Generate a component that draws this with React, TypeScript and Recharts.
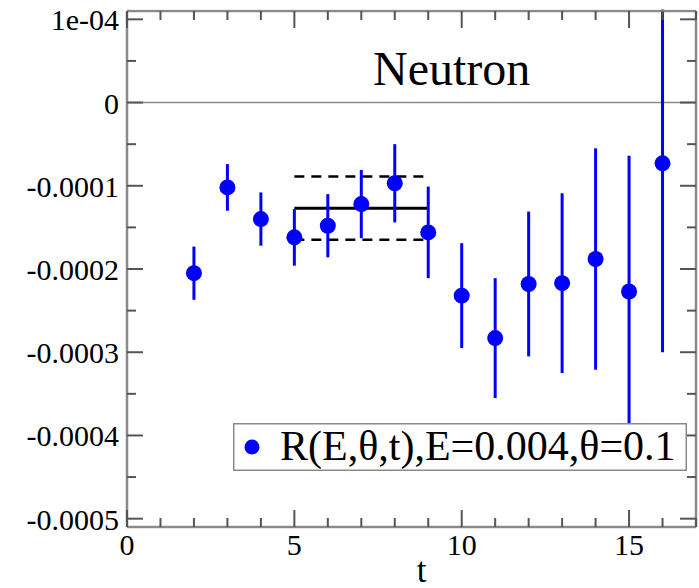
import React from "react";
import {
  ScatterChart,
  Scatter,
  XAxis,
  YAxis,
  ErrorBar,
  ReferenceLine,
  Legend,
} from "recharts";

// R(E,theta,t) per time slice
const tValues = [2, 3, 4, 5, 6, 7, 8, 9, 10, 11, 12, 13, 14, 15, 16];
const rValues = [
  -0.000205, -0.000102, -0.00014, -0.000162, -0.000148, -0.000122, -0.000097,
  -0.000156, -0.000232, -0.000283, -0.000218, -0.000217, -0.000188, -0.000227,
  -0.000073,
];
const rErrors = [
  0.000032, 0.000028, 0.000032, 0.000034, 0.000038, 0.000041, 0.000047,
  0.000055, 0.000063, 0.000072, 0.000087, 0.000108, 0.000133, 0.000163,
  0.000227,
];

// plateau fit over t = 5..9
const fitRange = [5, 9];
const fitValue = -0.000127;
const fitError = 0.000038;

const xTicks = [0, 1, 2, 3, 4, 5, 6, 7, 8, 9, 10, 11, 12, 13, 14, 15, 16, 17];
const xMajorTicks = [0, 5, 10, 15];
const xTickLabels = ["0", "5", "10", "15"];

const yMajorTicks = [-0.0005, -0.0004, -0.0003, -0.0002, -0.0001, 0, 0.0001];
const yMinorTicks = [-0.00045, -0.00035, -0.00025, -0.00015, -0.00005, 0.00005];
const yTickLabels = ["-0.0005", "-0.0004", "-0.0003", "-0.0002", "-0.0001", "0", "1e-04"];

const data = tValues.map((t, i) => ({ t, r: rValues[i], err: rErrors[i] }));

const FONT = "'Liberation Serif', 'DejaVu Serif', serif";
const FRAME = "#8a8a8a";
const TICK = "#555";
const BLUE = "#0000ff";

const majorIndex = (list: number[], v: number) =>
  list.findIndex((m) => Math.abs(m - v) < 1e-9);

const BottomTick = ({ x, y, payload }: any) => {
  const i = majorIndex(xMajorTicks, payload.value);
  const len = i >= 0 ? 17 : 9;
  return (
    <g>
      <line x1={x} y1={y} x2={x} y2={y - len} stroke={TICK} strokeWidth={2} />
      {i >= 0 && (
        <text x={x} y={y + 28} textAnchor="middle" fontSize={30} fontFamily={FONT} fill="#000">
          {xTickLabels[i]}
        </text>
      )}
    </g>
  );
};

const TopTick = ({ x, y, payload }: any) => {
  const len = majorIndex(xMajorTicks, payload.value) >= 0 ? 17 : 9;
  return <line x1={x} y1={y} x2={x} y2={y + len} stroke={TICK} strokeWidth={2} />;
};

const LeftTick = ({ x, y, payload }: any) => {
  const i = majorIndex(yMajorTicks, payload.value);
  const len = i >= 0 ? 16 : 9;
  return (
    <g>
      <line x1={x} y1={y} x2={x + len} y2={y} stroke={TICK} strokeWidth={2} />
      {i >= 0 && (
        <text x={x - 8} y={y + 11} textAnchor="end" fontSize={30} fontFamily={FONT} fill="#000">
          {yTickLabels[i]}
        </text>
      )}
    </g>
  );
};

const RightTick = ({ x, y, payload }: any) => {
  const len = majorIndex(yMajorTicks, payload.value) >= 0 ? 16 : 9;
  return <line x1={x} y1={y} x2={x - len} y2={y} stroke={TICK} strokeWidth={2} />;
};

const Dot = (p: any) => <circle cx={p.cx} cy={p.cy} r={8} fill={BLUE} />;

const LegendBox = () => (
  <svg width={454} height={48} style={{ display: "block" }}>
    <rect x={0.75} y={0.75} width={452.5} height={46.5} fill="#fff" stroke={FRAME} strokeWidth={1.5} />
    <circle cx={19} cy={24} r={7.5} fill={BLUE} />
    <text x={47} y={37} fontSize={42} fontFamily={FONT} fill="#000">
      R(E,θ,t),E=0.004,θ=0.1
    </text>
  </svg>
);

export default function App() {
  const yTicks = [...yMajorTicks, ...yMinorTicks].sort((a, b) => a - b);
  return (
    <div style={{ position: "absolute", left: 0, top: 0, width: 699, height: 588, background: "#fff" }}>
      <ScatterChart width={699} height={588} margin={{ top: 10, right: 2, bottom: 0, left: 0 }}>
        <XAxis
          xAxisId={0}
          dataKey="t"
          type="number"
          domain={[0, 17]}
          ticks={xTicks}
          interval={0}
          allowDataOverflow
          height={61}
          tickSize={0}
          tickMargin={0}
          tickLine={false}
          axisLine={{ stroke: FRAME, strokeWidth: 2.5 }}
          tick={<BottomTick />}
          label={{
            value: "t",
            content: ({ viewBox }: any) => (
              <text
                x={viewBox.x + viewBox.width / 2 + 10}
                y={viewBox.y + 55}
                textAnchor="middle"
                fontSize={35}
                fontFamily={FONT}
                fill="#000"
              >
                t
              </text>
            ),
          }}
        />
        <XAxis
          xAxisId="top"
          orientation="top"
          dataKey="t"
          type="number"
          domain={[0, 17]}
          ticks={xTicks}
          interval={0}
          allowDataOverflow
          height={1}
          tickSize={0}
          tickMargin={0}
          tickLine={false}
          axisLine={{ stroke: FRAME, strokeWidth: 2.5 }}
          tick={<TopTick />}
        />
        <YAxis
          yAxisId={0}
          dataKey="r"
          type="number"
          domain={[-0.00051, 0.00011]}
          ticks={yTicks}
          interval={0}
          allowDataOverflow
          width={127}
          tickSize={0}
          tickMargin={0}
          tickLine={false}
          axisLine={{ stroke: FRAME, strokeWidth: 2.5 }}
          tick={<LeftTick />}
        />
        <YAxis
          yAxisId="right"
          orientation="right"
          dataKey="r"
          type="number"
          domain={[-0.00051, 0.00011]}
          ticks={yTicks}
          interval={0}
          allowDataOverflow
          width={1}
          tickSize={0}
          tickMargin={0}
          tickLine={false}
          axisLine={{ stroke: FRAME, strokeWidth: 2.5 }}
          tick={<RightTick />}
        />
        <ReferenceLine y={0} stroke={FRAME} strokeWidth={1.5} />
        <ReferenceLine
          segment={[{ x: fitRange[0], y: fitValue + fitError }, { x: fitRange[1], y: fitValue + fitError }]}
          stroke="#000"
          strokeWidth={2.5}
          strokeDasharray="10 7"
        />
        <ReferenceLine
          segment={[{ x: fitRange[0], y: fitValue }, { x: fitRange[1], y: fitValue }]}
          stroke="#000"
          strokeWidth={3}
        />
        <ReferenceLine
          segment={[{ x: fitRange[0], y: fitValue - fitError }, { x: fitRange[1], y: fitValue - fitError }]}
          stroke="#000"
          strokeWidth={2.5}
          strokeDasharray="10 7"
        />
        <Scatter name="R" data={data} fill={BLUE} shape={<Dot />} isAnimationActive={false}>
          <ErrorBar dataKey="err" direction="y" width={0} stroke={BLUE} strokeWidth={3} isAnimationActive={false} />
        </Scatter>
        <Legend
          layout="horizontal"
          verticalAlign="middle"
          align="center"
          content={() => <LegendBox />}
          wrapperStyle={{ left: 233, top: 423, width: 454, height: 48 }}
        />
      </ScatterChart>
      <svg width={699} height={110} style={{ position: "absolute", left: 0, top: 0, pointerEvents: "none" }}>
        {/* keep error bars from running past the top frame */}
        <rect x={130} y={0} width={569} height={9.5} fill="#fff" />
        <text x={373} y={85} fontSize={48} fontFamily={FONT} fill="#000">
          Neutron
        </text>
      </svg>
    </div>
  );
}
